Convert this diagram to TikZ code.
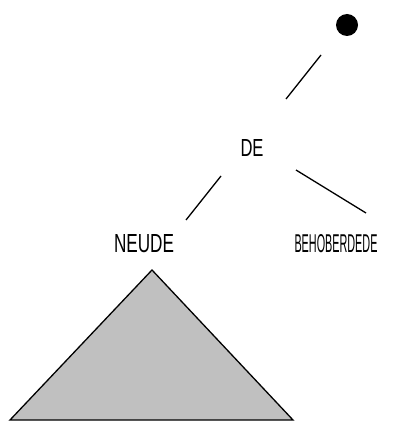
\documentclass[tikz,border=0pt]{standalone}
\usepackage{fontspec}
\setmainfont{Liberation Sans}
\begin{document}
\begin{tikzpicture}[x=1pt,y=-1pt,
  lbl/.style={inner sep=0pt,font=\fontsize{20}{20}\selectfont},
  edge/.style={line width=1.3pt}]
\useasboundingbox (0,0) rectangle (407,422);
\fill[black] (347,25) circle (11) coordinate (root);
\coordinate (r1) at (321,55);
\coordinate (r2) at (286,99);
\draw[edge] (r1) -- (r2);
\node[lbl] (de) at (252,148) {\resizebox{23pt}{17pt}{DE}};
\coordinate (a1) at (221,176);
\coordinate (a2) at (186,220);
\draw[edge] (a1) -- (a2);
\coordinate (b1) at (296,170);
\coordinate (b2) at (366,213);
\draw[edge] (b1) -- (b2);
\node[lbl] (neude) at (144,244) {\resizebox{60pt}{18pt}{NEUDE}};
\node[lbl] (beh) at (336,244) {\resizebox{83pt}{18pt}{BEHOBERDEDE}};
\draw[line width=1.3pt, fill={rgb,255:red,192;green,192;blue,192}] (152,270) -- (293,420) -- (10,420) -- cycle;
\end{tikzpicture}
\end{document}
